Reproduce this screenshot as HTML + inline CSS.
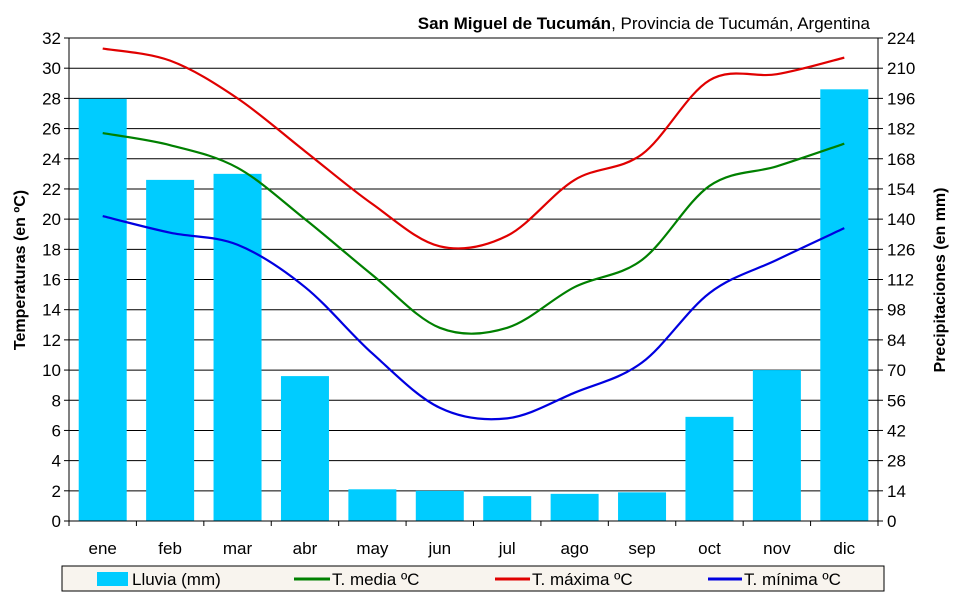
<!DOCTYPE html>
<html><head><meta charset="utf-8"><style>
body{margin:0;background:#fff;}
svg{display:block;font-family:"Liberation Sans",sans-serif;}
</style></head><body>
<svg id="c" width="960" height="595" viewBox="0 0 960 595" xmlns="http://www.w3.org/2000/svg">
<text x="870" y="29" font-size="17" text-anchor="end"><tspan font-weight="bold">San Miguel de Tucumán</tspan>, Provincia de Tucumán, Argentina</text>
<g id="grid"></g>
<g id="bars"></g>
<g id="lines"></g>
<g id="axes"></g>
<text transform="translate(25,270) rotate(-90)" font-size="16" font-weight="bold" text-anchor="middle">Temperaturas (en ºC)</text>
<text transform="translate(945,280) rotate(-90)" font-size="16" font-weight="bold" text-anchor="middle">Precipitaciones (en mm)</text>
<rect x="62" y="566" width="822" height="25" fill="#f8f4ee" stroke="#000" stroke-width="1"/>
<rect x="97" y="572" width="31" height="14" fill="#00ccff"/>
<text x="132" y="585" font-size="17">Lluvia (mm)</text>
<line x1="294" y1="579" x2="330" y2="579" stroke="#008000" stroke-width="3"/>
<text x="332" y="585" font-size="17">T. media ºC</text>
<line x1="495" y1="579" x2="530" y2="579" stroke="#e00000" stroke-width="3"/>
<text x="532" y="585" font-size="17">T. máxima ºC</text>
<line x1="708" y1="579" x2="742" y2="579" stroke="#0000e0" stroke-width="3"/>
<text x="744" y="585" font-size="17">T. mínima ºC</text>
</svg>
<script>
const NS="http://www.w3.org/2000/svg";
const X0=69,X1=878,Y0=521,Y1=38,cw=(X1-X0)/12,u=(Y0-Y1)/32;
const y=v=>Y0-v*u, cx=i=>X0+cw*(i+0.5);
function el(p,t,a,txt){const e=document.createElementNS(NS,t);for(const k in a)e.setAttribute(k,a[k]);if(txt!=null)e.textContent=txt;document.getElementById(p).appendChild(e);}
for(let v=0;v<=32;v+=2){
 if(v>0)el("grid","line",{x1:X0,x2:X1,y1:y(v),y2:y(v),stroke:"#000","stroke-width":1});
 el("axes","line",{x1:X0-5,x2:X0,y1:y(v),y2:y(v),stroke:"#000"});
 el("axes","line",{x1:X1,x2:X1+5,y1:y(v),y2:y(v),stroke:"#000"});
 el("axes","text",{x:X0-8,y:y(v)+6,"font-size":17,"text-anchor":"end"},v);
 el("axes","text",{x:X1+9,y:y(v)+6,"font-size":17},v*7);
}
el("axes","line",{x1:X0,x2:X0,y1:Y1,y2:Y0,stroke:"#000"});
el("axes","line",{x1:X1,x2:X1,y1:Y1,y2:Y0,stroke:"#000"});
el("axes","line",{x1:X0,x2:X1,y1:Y0,y2:Y0,stroke:"#000"});
const m=["ene","feb","mar","abr","may","jun","jul","ago","sep","oct","nov","dic"];
for(let i=0;i<=12;i++)el("axes","line",{x1:X0+cw*i,x2:X0+cw*i,y1:Y0,y2:Y0+5,stroke:"#000"});
m.forEach((s,i)=>el("axes","text",{x:cx(i),y:554,"font-size":17,"text-anchor":"middle"},s));
const rain=[27.97,22.6,23.0,9.6,2.1,2.0,1.65,1.8,1.9,6.9,10.0,28.6];
rain.forEach((v,i)=>el("bars","rect",{x:cx(i)-24,y:y(v),width:48,height:v*u,fill:"#00ccff"}));
function path(d){const p=d.map((v,i)=>[cx(i),y(v)]);let s="M"+p[0];
 for(let i=0;i<p.length-1;i++){const a=p[Math.max(0,i-1)],b=p[i],c=p[i+1],e=p[Math.min(p.length-1,i+2)];
 s+=" C"+[b[0]+(c[0]-a[0])/6,b[1]+(c[1]-a[1])/6]+" "+[c[0]-(e[0]-b[0])/6,c[1]-(e[1]-b[1])/6]+" "+c;}
 return s;}
el("lines","path",{d:path([25.7,24.9,23.4,20,16.3,12.8,12.8,15.5,17.3,22.2,23.5,25.0]),fill:"none",stroke:"#008000","stroke-width":2.2});
el("lines","path",{d:path([31.3,30.5,28,24.5,21,18.2,18.9,22.6,24.3,29.2,29.6,30.7]),fill:"none",stroke:"#e00000","stroke-width":2.2});
el("lines","path",{d:path([20.2,19.1,18.3,15.5,11.1,7.5,6.8,8.5,10.5,15.1,17.3,19.4]),fill:"none",stroke:"#0000e0","stroke-width":2.2});
</script>
</body></html>
